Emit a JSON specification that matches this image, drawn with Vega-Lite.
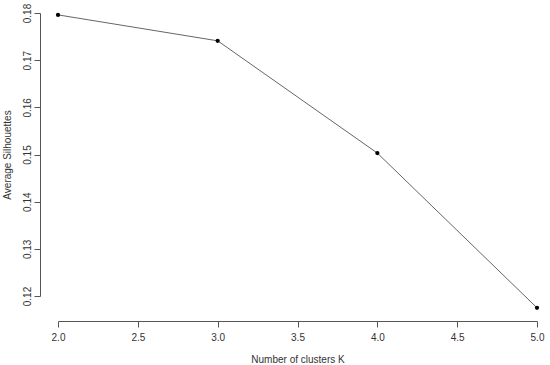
{
  "$schema": "https://vega.github.io/schema/vega-lite/v6.json",
  "autosize": "none",
  "width": 479,
  "height": 283,
  "padding": {"left": 58, "top": 13, "right": 13, "bottom": 69},
  "background": "white",
  "config": {
    "view": {"stroke": null},
    "font": "Liberation Sans",
    "axis": {
      "grid": false,
      "domainColor": "#555555",
      "tickColor": "#555555",
      "tickSize": 6,
      "labelFont": "Liberation Sans",
      "labelFontSize": 10,
      "labelColor": "#333333",
      "titleFont": "Liberation Sans",
      "titleFontSize": 10,
      "titleFontWeight": "normal",
      "titleColor": "#333333"
    }
  },
  "data": {
    "values": [
      {"k": 2, "s": 0.1796},
      {"k": 3, "s": 0.1741},
      {"k": 4, "s": 0.1503},
      {"k": 5, "s": 0.1175}
    ]
  },
  "encoding": {
    "x": {
      "field": "k", "type": "quantitative",
      "scale": {"domain": [2, 5], "nice": false, "zero": false},
      "axis": {"title": "Number of clusters K", "offset": 25, "values": [2, 2.5, 3, 3.5, 4, 4.5, 5], "format": ".1f", "labelPadding": 5, "titlePadding": 12, "labelFlush": false}
    },
    "y": {
      "field": "s", "type": "quantitative",
      "scale": {"domain": [0.12, 0.18], "nice": false, "zero": false},
      "axis": {"title": "Average Silhouettes", "offset": 18, "values": [0.12, 0.13, 0.14, 0.15, 0.16, 0.17, 0.18], "format": ".2f", "labelAngle": 270, "labelAlign": "center", "labelBaseline": "bottom", "labelPadding": 2, "titlePadding": 10, "labelFlush": false}
    }
  },
  "layer": [
    {"mark": {"type": "line", "color": "#666666", "strokeWidth": 1, "clip": false}},
    {"mark": {"type": "point", "filled": true, "color": "black", "size": 18, "opacity": 1, "clip": false}}
  ]
}
